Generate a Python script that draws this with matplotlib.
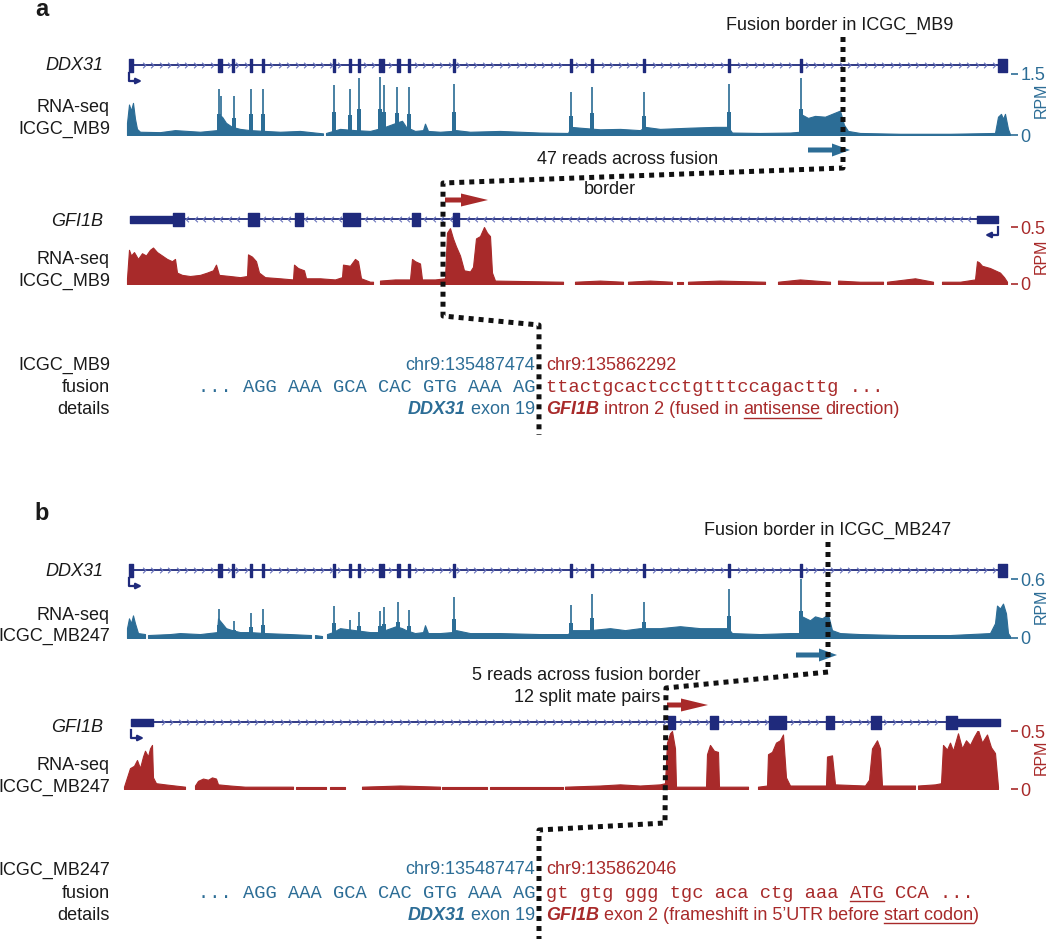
import matplotlib
matplotlib.use('Agg')
import matplotlib.pyplot as plt
import numpy as np
from matplotlib.path import Path
from matplotlib.markers import MarkerStyle

plt.rcParams['font.family'] = ['Liberation Sans', 'DejaVu Sans']

W, H = 1050, 939
X0, X1 = 120, 1011          # track window (browser x units)

# ---------------- gene models ----------------
ddx31_span = (129, 1007)
ddx31_exons = [(129, 133), (218, 222), (232, 234), (250, 252), (262, 264),
               (333, 335), (349, 351), (358, 360), (379, 381), (382, 384),
               (397, 400), (408, 410), (453, 455), (570, 572), (591, 593),
               (643, 645), (728, 730), (800, 802), (998, 1007)]

gfi1b_a_span = (130, 998)
gfi1b_a_exons = [(173, 184), (248, 259), (295, 303), (343, 360), (412, 420), (453, 459)]
gfi1b_a_utr = [(130, 173), (977, 998)]

gfi1b_b_span = (131, 1000)
gfi1b_b_exons = [(668, 675), (710, 718), (769, 786), (826, 834), (871, 881), (946, 957)]
gfi1b_b_utr = [(131, 153), (957, 1000)]

# ---------------- coverage (RPM) ----------------
ddx31_a_cov = [
    [(127, 0.3), (129, 0.75), (131, 0.6), (133, 0.79), (135, 0.4), (137, 0.15), (140, 0.08),
     (160, 0.07), (175, 0.12), (200, 0.08), (217, 0.12), (218, 0.5), (222, 0.45), (226, 0.3),
     (232, 0.2), (240, 0.15), (250, 0.12), (265, 0.1), (280, 0.08), (300, 0.1), (315, 0.06),
     (323, 0.04)],
    [(326, 0.05), (333, 0.1), (340, 0.15), (355, 0.12), (370, 0.1), (378, 0.15), (385, 0.2),
     (396, 0.3), (402, 0.35), (406, 0.2), (415, 0.1), (423, 0.12), (425, 0.28), (428, 0.1),
     (440, 0.08), (452, 0.1), (456, 0.12), (470, 0.08), (500, 0.1), (540, 0.06), (568, 0.05),
     (571, 0.2), (580, 0.18), (600, 0.14), (620, 0.15), (640, 0.12), (645, 0.2), (660, 0.15),
     (690, 0.18), (715, 0.2), (728, 0.2), (732, 0.06), (760, 0.05), (790, 0.06), (800, 0.08),
     (802, 0.5), (808, 0.42), (815, 0.47), (825, 0.45), (832, 0.52), (840, 0.6), (844, 0.25),
     (848, 0.1), (860, 0.05), (900, 0.03), (950, 0.03), (995, 0.05), (998, 0.45), (1001, 0.52),
     (1003, 0.4), (1005, 0.52), (1008, 0.15), (1010, 0.02)],
]
ddx31_a_spk_x = [219, 221, 234, 251, 263, 334, 350, 359, 380, 384, 397, 409, 454,
                 571, 592, 644, 729, 801]
ddx31_a_spk_v = [1.14, 0.95, 0.95, 1.14, 1.14, 1.24, 1.12, 1.40, 1.43, 1.24, 1.19, 1.17, 1.26,
                 1.05, 1.19, 1.05, 1.26, 1.40]

gfi1b_a_cov = [
    [(127, 0.05), (129, 0.3), (131, 0.25), (134, 0.28), (138, 0.22), (142, 0.27), (146, 0.25),
     (150, 0.3), (153, 0.32), (157, 0.28), (162, 0.25), (167, 0.22), (172, 0.2), (175, 0.22),
     (177, 0.1), (182, 0.08), (190, 0.07), (200, 0.08), (207, 0.1), (213, 0.12), (216, 0.17),
     (219, 0.08), (230, 0.07), (240, 0.06), (247, 0.07), (248, 0.26), (252, 0.24), (256, 0.2),
     (259, 0.1), (265, 0.06), (280, 0.05), (293, 0.04), (294, 0.17), (298, 0.14), (304, 0.12),
     (306, 0.05), (320, 0.05), (335, 0.04), (342, 0.06), (343, 0.17), (350, 0.16), (355, 0.22),
     (358, 0.2), (361, 0.05), (370, 0.02), (373, 0.02)],
    [(380, 0.03), (395, 0.04), (410, 0.04), (412, 0.22), (415, 0.2), (420, 0.18), (422, 0.04),
     (435, 0.04), (445, 0.05), (447, 0.45), (450, 0.49), (453, 0.4), (456, 0.33), (460, 0.25),
     (464, 0.12), (470, 0.11), (473, 0.15), (476, 0.4), (480, 0.42), (484, 0.5), (487, 0.45),
     (490, 0.42), (492, 0.1), (495, 0.03), (563, 0.02)],
    [(575, 0.02), (600, 0.03), (623, 0.02)],
    [(628, 0.02), (650, 0.03), (672, 0.02)],
    [(677, 0.02), (683, 0.02)],
    [(688, 0.02), (720, 0.03), (765, 0.02)],
    [(778, 0.02), (800, 0.04), (830, 0.02)],
    [(838, 0.03), (860, 0.02), (883, 0.02)],
    [(887, 0.02), (915, 0.05), (933, 0.02)],
    [(942, 0.02), (960, 0.02), (975, 0.04), (977, 0.2), (979, 0.19), (982, 0.16), (986, 0.15),
     (990, 0.14), (995, 0.12), (1000, 0.1), (1004, 0.06), (1007, 0.02)],
]

ddx31_b_cov = [
    [(127, 0.1), (129, 0.2), (131, 0.15), (133, 0.23), (135, 0.15), (138, 0.05), (145, 0.04)],
    [(148, 0.03), (170, 0.04), (180, 0.05), (200, 0.04), (217, 0.06), (218, 0.2), (222, 0.15),
     (226, 0.1), (232, 0.08), (240, 0.06), (250, 0.06), (265, 0.05), (290, 0.04), (311, 0.03)],
    [(315, 0.03), (322, 0.02)],
    [(327, 0.04), (333, 0.06), (340, 0.1), (355, 0.08), (370, 0.06), (378, 0.06), (385, 0.08),
     (396, 0.12), (402, 0.1), (406, 0.08), (415, 0.05), (423, 0.06), (425, 0.13), (428, 0.05),
     (440, 0.05), (452, 0.06), (456, 0.08), (470, 0.05), (500, 0.05), (540, 0.04), (568, 0.04),
     (571, 0.08), (590, 0.08), (610, 0.1), (625, 0.08), (640, 0.1), (660, 0.1), (680, 0.12),
     (700, 0.1), (715, 0.1), (728, 0.1), (732, 0.05), (760, 0.04), (790, 0.05), (800, 0.05),
     (802, 0.22), (810, 0.18), (815, 0.22), (822, 0.2), (828, 0.24), (832, 0.08), (840, 0.05),
     (860, 0.04), (900, 0.03), (950, 0.03), (990, 0.05), (995, 0.15), (997, 0.33), (1000, 0.3),
     (1003, 0.35), (1006, 0.25), (1008, 0.05), (1010, 0.02)],
]
ddx31_b_spk_x = [219, 234, 251, 263, 334, 350, 359, 380, 384, 398, 409, 454,
                 571, 592, 644, 729, 801]
ddx31_b_spk_v = [0.30, 0.17, 0.25, 0.30, 0.33, 0.18, 0.26, 0.27, 0.32, 0.37, 0.28, 0.42,
                 0.34, 0.45, 0.37, 0.50, 0.60]

gfi1b_b_cov = [
    [(124, 0.02), (127, 0.1), (130, 0.18), (134, 0.2), (137, 0.25), (140, 0.18), (143, 0.28),
     (145, 0.33), (148, 0.28), (150, 0.35), (152, 0.38), (153, 0.1), (156, 0.05), (165, 0.04),
     (175, 0.03), (185, 0.02)],
    [(195, 0.03), (198, 0.07), (203, 0.09), (208, 0.08), (212, 0.1), (216, 0.09), (218, 0.04),
     (230, 0.03), (245, 0.02), (260, 0.02), (293, 0.02)],
    [(296, 0.02), (326, 0.02)],
    [(330, 0.02), (345, 0.02)],
    [(362, 0.02), (400, 0.03), (440, 0.02)],
    [(442, 0.02), (487, 0.02)],
    [(490, 0.02), (563, 0.02)],
    [(565, 0.02), (600, 0.03), (620, 0.04), (640, 0.03), (660, 0.04), (665, 0.05), (667, 0.4),
     (670, 0.48), (672, 0.5), (675, 0.35), (676, 0.02), (706, 0.02), (707, 0.3), (710, 0.38),
     (714, 0.33), (718, 0.32), (719, 0.02), (748, 0.02)],
    [(758, 0.02), (767, 0.03), (768, 0.3), (772, 0.32), (776, 0.4), (780, 0.42), (783, 0.47),
     (786, 0.1), (790, 0.03), (826, 0.03), (827, 0.28), (832, 0.29), (835, 0.04), (865, 0.03),
     (869, 0.08), (872, 0.35), (877, 0.42), (880, 0.35), (882, 0.03), (915, 0.03)],
    [(918, 0.03), (935, 0.04), (941, 0.05), (943, 0.38), (947, 0.34), (950, 0.4), (953, 0.33),
     (958, 0.48), (962, 0.35), (966, 0.42), (970, 0.38), (974, 0.45), (978, 0.51), (982, 0.4),
     (987, 0.47), (991, 0.36), (995, 0.31), (998, 0.02)],
]

NAVY = '#1f2a7c'
CHEV = '#6a74bc'
BLUE = '#2c6d96'
RED = '#a82a2a'
INK = '#1a1a1a'

fig = plt.figure(figsize=(W / 100, H / 100), dpi=100)


def px_axes(x0, y0, x1, y1):
    ax = fig.add_axes([x0 / W, 1 - y1 / H, (x1 - x0) / W, (y1 - y0) / H])
    ax.set_facecolor('none')
    for s in ax.spines.values():
        s.set_visible(False)
    return ax


def chevron(strand):
    v = [(-0.5, 1), (0.5, 0), (-0.5, -1)] if strand > 0 else [(0.5, 1), (-0.5, 0), (0.5, -1)]
    return MarkerStyle(Path(v, [Path.MOVETO, Path.LINETO, Path.LINETO]))


def gene_track(yc, span, exons, utrs, strand):
    ax = px_axes(X0, yc - 12, X1, yc + 22)
    ax.set_xlim(X0, X1)
    ax.set_ylim(22, -12)
    ax.axis('off')
    ax.hlines(0, span[0], span[1], color=NAVY, lw=1.3)
    blocks = exons + utrs
    pts = [p for p in np.arange(span[0] + 6, span[1] - 3, 8.5)
           if not any(a - 2 <= p <= b + 2 for a, b in blocks)]
    ax.plot(pts, np.zeros(len(pts)), ls='none', marker=chevron(strand), ms=4,
            mec=CHEV, mfc='none', mew=0.8)
    ax.broken_barh([(a, b - a) for a, b in exons], (-6.5, 13), color=NAVY)
    ax.broken_barh([(a, b - a) for a, b in utrs], (-3.5, 7), color=NAVY)
    x = span[0] if strand > 0 else span[1]
    dx = 13 if strand > 0 else -13
    ax.plot([x, x, x + dx * 0.5], [8, 16, 16], color=NAVY, lw=1.6)
    ax.annotate('', xy=(x + dx, 16), xytext=(x + dx * 0.3, 16),
                arrowprops=dict(arrowstyle='-|>', color=NAVY, lw=1.6,
                                mutation_scale=8, shrinkA=0, shrinkB=0))


def coverage(ytop, ybase, ymax, segs, color, top_label, spk_x=None, spk_v=None):
    ax = px_axes(X0, ytop, X1, ybase)
    ax.set_xlim(X0, X1)
    ax.set_ylim(0, ymax)
    for seg in segs:
        xs, ys = zip(*seg)
        ax.fill_between(xs, 0, ys, color=color, lw=0.8, ec=color)
    if spk_x is not None:
        ax.bar(spk_x, spk_v, width=2.2, color=color, lw=0, alpha=0.85)
        ax.bar(spk_x, np.array(spk_v) * 0.45, width=3.5, color=color, lw=0)
    ax.set_xticks([])
    ax.yaxis.tick_right()
    ax.set_yticks([0, ymax], ['0', top_label])
    ax.tick_params(axis='y', length=5, width=1.2, color=color, labelcolor=color,
                   labelsize=13, pad=2)
    return ax


# panel a tracks
gene_track(65, ddx31_span, ddx31_exons, [], 1)
coverage(74, 135, 1.5, ddx31_a_cov, BLUE, '1.5', ddx31_a_spk_x, ddx31_a_spk_v)
gene_track(219, gfi1b_a_span, gfi1b_a_exons, gfi1b_a_utr, -1)
coverage(227, 284, 0.5, gfi1b_a_cov, RED, '0.5')

# panel b tracks
gene_track(570, ddx31_span, ddx31_exons, [], 1)
coverage(579, 638, 0.6, ddx31_b_cov, BLUE, '0.6', ddx31_b_spk_x, ddx31_b_spk_v)
gene_track(722, gfi1b_b_span, gfi1b_b_exons, gfi1b_b_utr, 1)
coverage(731, 789, 0.5, gfi1b_b_cov, RED, '0.5')

# overlay in figure pixels
ov = fig.add_axes([0, 0, 1, 1])
ov.set_xlim(0, W)
ov.set_ylim(H, 0)
ov.axis('off')
ov.set_zorder(10)
rend = fig.canvas.get_renderer()

FS = 13
SANS = dict(fontsize=FS)
BI = dict(fontsize=FS, fontweight='bold', fontstyle='italic')
MONO = dict(fontsize=13.5, family='Liberation Mono')


def width(s, style):
    t = ov.text(0, 0, s, **style)
    w = t.get_window_extent(rend).width
    t.remove()
    return w


def rich(x, y, pieces, color, ha='left'):
    # pieces: (text, style, underline, space_before)
    arts = []
    for s, style, ul, sp in pieces:
        t = ov.text(0, y, s, color=color, ha='left', va='center', **style)
        w = t.get_window_extent(rend).width
        gap = (width('x x', style) - width('xx', style)) if sp else 0
        arts.append((t, w, gap, ul))
    total = sum(a[1] for a in arts) + sum(a[2] for a in arts[1:])
    cx = x - total if ha == 'right' else x
    for i, (t, w, gap, ul) in enumerate(arts):
        if i > 0:
            cx += gap
        t.set_x(cx)
        if ul:
            ov.plot([cx, cx + w], [y + 8, y + 8], color=color, lw=1)
        cx += w


# panel letters
ov.text(42, 10, 'a', fontsize=17, fontweight='bold', color=INK, ha='center', va='center')
ov.text(42, 513, 'b', fontsize=17, fontweight='bold', color=INK, ha='center', va='center')

# left track labels
for y, s, st in [(66, 'DDX31', 'italic'), (107, 'RNA-seq', 'normal'), (129, 'ICGC_MB9', 'normal'),
                 (221, 'GFI1B', 'italic'), (260, 'RNA-seq', 'normal'), (281, 'ICGC_MB9', 'normal'),
                 (571, 'DDX31', 'italic'), (615, 'RNA-seq', 'normal'), (636, 'ICGC_MB247', 'normal'),
                 (727, 'GFI1B', 'italic'), (765, 'RNA-seq', 'normal'), (787, 'ICGC_MB247', 'normal')]:
    xr = 103 if st == 'italic' else 110
    ov.text(xr, y, s, fontsize=FS, fontstyle=st, color=INK, ha='right', va='center')

# RPM labels
for y, c in [(100, BLUE), (256, RED), (606, BLUE), (757, RED)]:
    ov.text(1041, y, 'RPM', rotation=90, fontsize=11.5, color=c, ha='center', va='center')

# fusion paths
LS = (0, (1, 1))
ov.plot([843, 843, 443, 443, 539, 539], [37, 168, 183, 316, 325, 435],
        color='#111111', lw=3.6, ls=LS, dash_capstyle='butt')
ov.plot([828, 828, 666, 665, 539, 539], [542, 672, 688, 823, 830, 939],
        color='#111111', lw=3.6, ls=LS, dash_capstyle='butt')

# direction arrows
ov.arrow(808, 150, 42, 0, width=5, head_width=13, head_length=18,
         length_includes_head=True, color=BLUE, lw=0)
ov.arrow(445, 200, 43, 0, width=5, head_width=13, head_length=27,
         length_includes_head=True, color=RED, lw=0)
ov.arrow(796, 655, 41, 0, width=5, head_width=13, head_length=18,
         length_includes_head=True, color=BLUE, lw=0)
ov.arrow(667, 705, 41, 0, width=5, head_width=13, head_length=27,
         length_includes_head=True, color=RED, lw=0)

# annotations
ov.text(840, 25, 'Fusion border in ICGC_MB9', fontsize=FS, color=INK, ha='center', va='center')
ov.text(628, 160, '47 reads across fusion', fontsize=FS, color=INK, ha='center', va='center')
ov.text(610, 190, 'border', fontsize=FS, color=INK, ha='center', va='center')
ov.text(828, 530, 'Fusion border in ICGC_MB247', fontsize=FS, color=INK, ha='center', va='center')
ov.text(586, 675, '5 reads across fusion border', fontsize=FS, color=INK, ha='center', va='center')
ov.text(587, 697, '12 split mate pairs', fontsize=FS, color=INK, ha='center', va='center')

# fusion details
XL, XR = 535, 546
for (y0, sample, pos2, seq2, det2) in [
        (365, 'ICGC_MB9', 'chr9:135862292',
         [('ttactgcactcctgtttccagacttg ...', MONO, False, False)],
         [('GFI1B', BI, False, False), ('intron 2 (fused in', SANS, False, True),
          ('antisense', SANS, True, True), ('direction)', SANS, False, True)]),
        (870, 'ICGC_MB247', 'chr9:135862046',
         [('gt gtg ggg tgc aca ctg aaa', MONO, False, False), ('ATG', MONO, True, True),
          ('CCA ...', MONO, False, True)],
         [('GFI1B', BI, False, False), ('exon 2 (frameshift in 5\u2019UTR before', SANS, False, True),
          ('start codon', SANS, True, True), (')', SANS, False, False)])]:
    y1, y2 = y0 + 23, y0 + 45
    ov.text(110, y0, sample, fontsize=FS, color=INK, ha='right', va='center')
    ov.text(110, y1, 'fusion', fontsize=FS, color=INK, ha='right', va='center')
    ov.text(110, y2, 'details', fontsize=FS, color=INK, ha='right', va='center')
    ov.text(XL, y0, 'chr9:135487474', fontsize=FS, color=BLUE, ha='right', va='center')
    ov.text(XR, y0, pos2, fontsize=FS, color=RED, ha='left', va='center')
    rich(XL, y1, [('... AGG AAA GCA CAC GTG AAA AG', MONO, False, False)], BLUE, ha='right')
    rich(XR, y1, seq2, RED)
    rich(XL, y2, [('DDX31', BI, False, False), ('exon 19', SANS, False, True)], BLUE, ha='right')
    rich(XR, y2, det2, RED)

fig.savefig('out.png', dpi=100)
